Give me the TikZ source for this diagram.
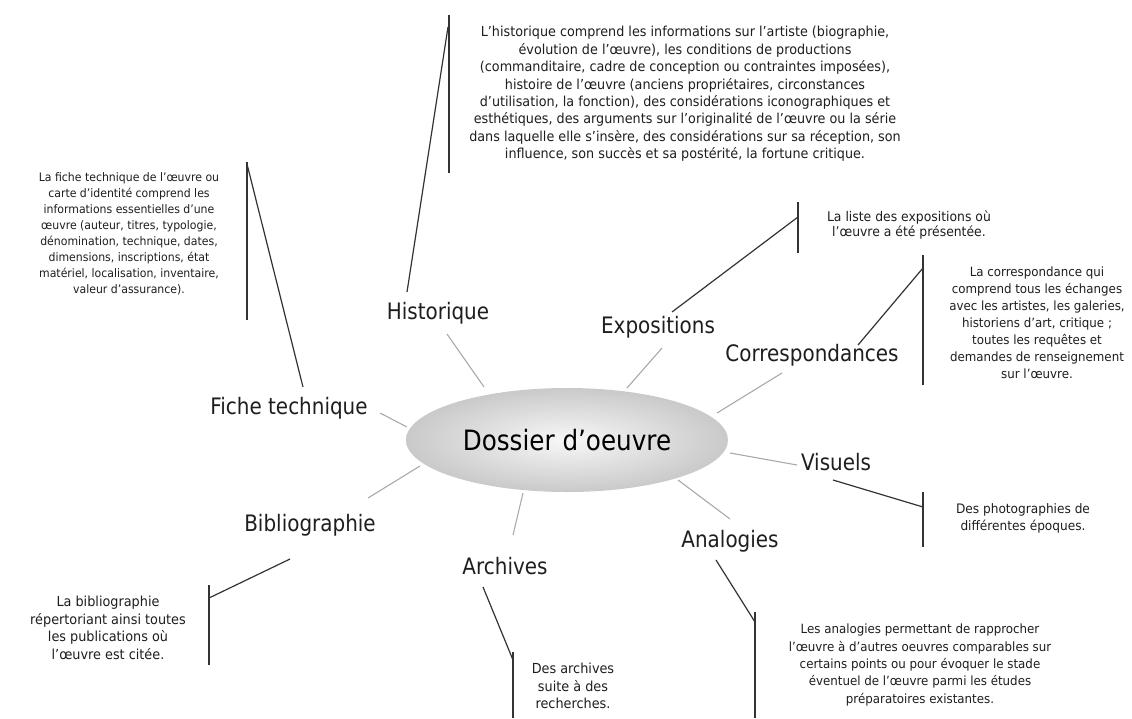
\documentclass[tikz,border=0pt]{standalone}
\usepackage{fontspec}
\usetikzlibrary{shapes.geometric}
\newfontfamily\labfont[FakeStretch=0.88]{DejaVu Sans}
\newfontfamily\notefont[FakeStretch=0.93]{DejaVu Sans}
\definecolor{ink}{HTML}{1E1E1E}
\definecolor{spoke}{HTML}{A8A8A8}
\definecolor{lead}{HTML}{333333}
\newcommand\nsz[2]{\notefont\fontsize{#1}{#2}\selectfont}
\tikzset{
  lab/.style={font=\labfont\fontsize{17}{20}\selectfont, text=ink, inner sep=0pt},
  note/.style={text=ink, align=center, inner sep=0pt},
  spk/.style={draw=spoke, line width=0.8pt},
  ldr/.style={draw=lead, line width=0.9pt},
}
\begin{document}
\begin{tikzpicture}[x=0.75pt,y=-0.75pt]
\useasboundingbox[fill=white] (0,0) rectangle (1132,718);

% central topic
\node[ellipse, minimum width=241.5pt, minimum height=78pt, inner color=gray!6, outer color=gray!42,
      font=\labfont\fontsize{21}{24}\selectfont, text=black] (ell) at (567,440) {Dossier d’oeuvre};

% branch labels
\node[lab] (hist) at (438,313) {Historique};
\node[lab] (expo) at (658,327) {Expositions};
\node[lab] (corr) at (812,355) {Correspondances};
\node[lab] (fiche) at (289,408) {Fiche technique};
\node[lab] (vis) at (836,462) {Visuels};
\node[lab] (bib) at (310,525) {Bibliographie};
\node[lab] (arch) at (505,566) {Archives};
\node[lab] (ana) at (730,541) {Analogies};

% notes
\node[note, font=\nsz{10.3}{13.05}] (nhist) at (685,94) {L’historique comprend les informations sur l’artiste (biographie,\\
évolution de l’œuvre), les conditions de productions\\
(commanditaire, cadre de conception ou contraintes imposées),\\
histoire de l’œuvre (anciens propriétaires, circonstances\\
d’utilisation, la fonction), des considérations iconographiques et\\
esthétiques, des arguments sur l’originalité de l’œuvre ou la série\\
dans laquelle elle s’insère, des considérations sur sa réception, son\\
influence, son succès et sa postérité, la fortune critique.};
\node[note, font=\nsz{8.8}{12}] (nfiche) at (129,234) {La fiche technique de l’œuvre ou\\
carte d’identité comprend les\\
informations essentielles d’une\\
œuvre (auteur, titres, typologie,\\
dénomination, technique, dates,\\
dimensions, inscriptions, état\\
matériel, localisation, inventaire,\\
valeur d’assurance).};
\node[note, font=\nsz{10}{11.5}] (nexpo) at (909,225) {La liste des expositions où\\l’œuvre a été présentée.};
\node[note, font=\nsz{9.55}{12.75}] (ncorr) at (1037,323) {La correspondance qui\\
comprend tous les échanges\\
avec les artistes, les galeries,\\
historiens d’art, critique ;\\
toutes les requêtes et\\
demandes de renseignement\\
sur l’œuvre.};
\node[note, font=\nsz{9.8}{12.75}] (nvis) at (1023,518) {Des photographies de\\différentes époques.};
\node[note, font=\nsz{9.55}{13.1}] (nana) at (920,665) {Les analogies permettant de rapprocher\\
l’œuvre à d’autres oeuvres comparables sur\\
certains points ou pour évoquer le stade\\
éventuel de l’œuvre parmi les études\\
préparatoires existantes.};
\node[note, font=\nsz{10.35}{13.1}] (narch) at (573,686) {Des archives\\suite à des\\recherches.};
\node[note, font=\nsz{10.35}{13.1}] (nbib) at (108,628) {La bibliographie\\répertoriant ainsi toutes\\les publications où\\l’œuvre est citée.};

% spoke end points
\coordinate (sh1) at (484,387); \coordinate (sh2) at (447,334);
\coordinate (se1) at (627,388); \coordinate (se2) at (662,348);
\coordinate (sc1) at (717,413); \coordinate (sc2) at (782,373);
\coordinate (sf1) at (407,427); \coordinate (sf2) at (380,413);
\coordinate (sv1) at (730,453); \coordinate (sv2) at (797,465);
\coordinate (sa1) at (678,480); \coordinate (sa2) at (730,519);
\coordinate (sr1) at (523,493); \coordinate (sr2) at (513,535);
\coordinate (sb1) at (420,466); \coordinate (sb2) at (368,498);

\draw[spk] (sh1) -- (sh2);
\draw[spk] (se1) -- (se2);
\draw[spk] (sc1) -- (sc2);
\draw[spk] (sf1) -- (sf2);
\draw[spk] (sv1) -- (sv2);
\draw[spk] (sa1) -- (sa2);
\draw[spk] (sr1) -- (sr2);
\draw[spk] (sb1) -- (sb2);

% note brackets and leaders
\coordinate (bh1) at (449,15);  \coordinate (bh2) at (449,173); \coordinate (bhj) at (448,27);  \coordinate (lh) at (407,292);
\coordinate (bf1) at (247,162); \coordinate (bf2) at (247,320); \coordinate (bfj) at (247,164); \coordinate (lf) at (303,387);
\coordinate (be1) at (798,202); \coordinate (be2) at (798,253); \coordinate (bej) at (798,217); \coordinate (le) at (672,312);
\coordinate (bc1) at (923,255); \coordinate (bc2) at (923,385); \coordinate (bcj) at (923,268); \coordinate (lc) at (858,345);
\coordinate (bv1) at (923,492); \coordinate (bv2) at (923,547); \coordinate (bvj) at (923,507); \coordinate (lv) at (833,480);
\coordinate (ba1) at (755,612); \coordinate (ba2) at (755,718); \coordinate (baj) at (755,622); \coordinate (la) at (716,560);
\coordinate (br1) at (513,652); \coordinate (br2) at (513,718); \coordinate (brj) at (513,660); \coordinate (lr) at (483,587);
\coordinate (bb1) at (209,585); \coordinate (bb2) at (209,665); \coordinate (bbj) at (209,598); \coordinate (lb) at (290,559);

\draw[ldr] (bh1) -- (bh2); \draw[ldr] (lh) -- (bhj);
\draw[ldr] (bf1) -- (bf2); \draw[ldr] (lf) -- (bfj);
\draw[ldr] (be1) -- (be2); \draw[ldr] (le) -- (bej);
\draw[ldr] (bc1) -- (bc2); \draw[ldr] (lc) -- (bcj);
\draw[ldr] (bv1) -- (bv2); \draw[ldr] (lv) -- (bvj);
\draw[ldr] (ba1) -- (ba2); \draw[ldr] (la) -- (baj);
\draw[ldr] (br1) -- (br2); \draw[ldr] (lr) -- (brj);
\draw[ldr] (bb1) -- (bb2); \draw[ldr] (lb) -- (bbj);
\end{tikzpicture}
\end{document}
